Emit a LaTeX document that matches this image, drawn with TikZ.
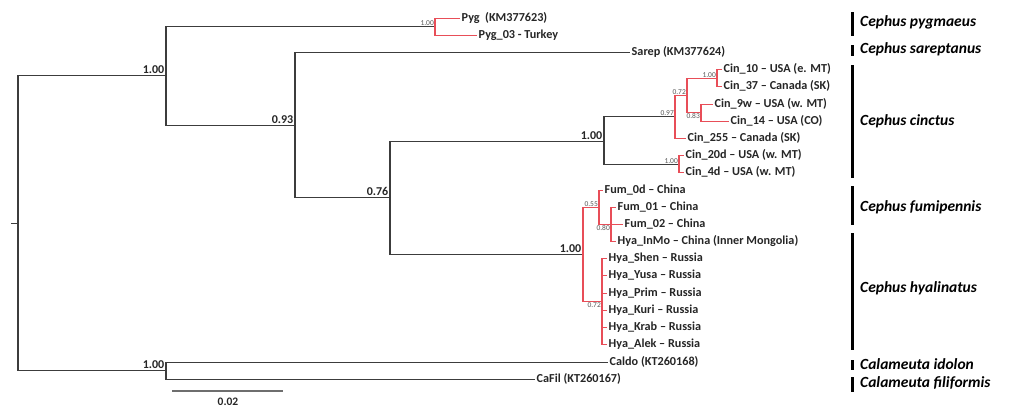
\documentclass[tikz,border=0pt]{standalone}
\usepackage{fontspec}
\setmainfont{Carlito}
\definecolor{brgray}{RGB}{60,60,60}
\definecolor{brred}{RGB}{232,78,88}
\definecolor{sbgray}{RGB}{110,110,110}
\begin{document}
\begin{tikzpicture}[x=1pt,y=-1pt,
  bk/.style={draw=brgray, line width=1.1pt},
  rd/.style={draw=brred, line width=1.2pt},
  leaf/.style={anchor=west, inner xsep=1.5pt, inner ysep=0pt, text height=8pt, text depth=2.5pt,
    font=\bfseries\fontsize{12.2}{12.5}\selectfont, text=black!85},
  bigsup/.style={font=\bfseries\fontsize{12}{12}\selectfont, inner sep=1.5pt, text=black!85},
  smsup/.style={font=\fontsize{7.5}{8}\selectfont, text=black!65, inner sep=1pt},
  spec/.style={anchor=west, inner sep=0pt, font=\bfseries\itshape\fontsize{15.5}{15.5}\selectfont},
  specbar/.style={draw=black, line width=3pt},
  scalebar/.style={draw=sbgray, line width=1.6pt}]
\fill[white] (0,0) rectangle (1009,407);
\useasboundingbox (0,0) rectangle (1009,407);

% internal nodes
\coordinate (stub) at (11,223.5);
\coordinate (r) at (18,223.5);
\coordinate (n1) at (166,75.5);
\coordinate (pygN) at (435,26.5);
\coordinate (n93) at (295,125.5);
\coordinate (n76) at (390,197.5);
\coordinate (cinN) at (604,141.5);
\coordinate (n97) at (675,116.5);
\coordinate (n72) at (687,95.5);
\coordinate (n100c) at (717,78.5);
\coordinate (n83) at (701,112.5);
\coordinate (n20) at (679,164.5);
\coordinate (fhN) at (583,254.5);
\coordinate (n55) at (599,207.5);
\coordinate (n80) at (611,224.5);
\coordinate (hyN) at (602,301.5);
\coordinate (calN) at (166,370.5);

% leaves
\node[leaf] (pyg) at (460,18.5) {Pyg\ \ (KM377623)};
\node[leaf] (pyg03) at (477,35.5) {Pyg\_03 - Turkey};
\node[leaf] (sarep) at (630,52.5) {Sarep (KM377624)};
\node[leaf] (c10) at (722,69.5) {Cin\_10 – USA (e. MT)};
\node[leaf] (c37) at (722,86.5) {Cin\_37 – Canada (SK)};
\node[leaf] (c9w) at (713,104.5) {Cin\_9w – USA (w. MT)};
\node[leaf] (c14) at (729,121.5) {Cin\_14 – USA (CO)};
\node[leaf] (c255) at (686,138.5) {Cin\_255 – Canada (SK)};
\node[leaf] (c20d) at (684,155.5) {Cin\_20d – USA (w. MT)};
\node[leaf] (c4d) at (684,172.5) {Cin\_4d – USA (w. MT)};
\node[leaf] (f0d) at (603,190.5) {Fum\_0d – China};
\node[leaf] (f01) at (616,207.5) {Fum\_01 – China};
\node[leaf] (f02) at (623,224.5) {Fum\_02 – China};
\node[leaf] (hinmo) at (616,241.5) {Hya\_InMo – China (Inner Mongolia)};
\node[leaf] (hshen) at (607,258.5) {Hya\_Shen – Russia};
\node[leaf] (hyusa) at (607,275.5) {Hya\_Yusa – Russia};
\node[leaf] (hprim) at (607,293.5) {Hya\_Prim – Russia};
\node[leaf] (hkuri) at (607,310.5) {Hya\_Kuri – Russia};
\node[leaf] (hkrab) at (607,327.5) {Hya\_Krab – Russia};
\node[leaf] (halek) at (607,344.5) {Hya\_Alek – Russia};
\node[leaf] (caldo) at (608,362.5) {Caldo (KT260168)};
\node[leaf] (cafil) at (535,379.5) {CaFil (KT260167)};

% connectors (black)
\draw[bk] (stub) -- (r);
\draw[bk] (r) |- (n1);
\draw[bk] (r) |- (calN);
\draw[bk] (n1) |- (pygN);
\draw[bk] (n1) |- (n93);
\draw[bk] (n93) |- (sarep.west);
\draw[bk] (n93) |- (n76);
\draw[bk] (n76) |- (cinN);
\draw[bk] (n76) |- (fhN);
\draw[bk] (cinN) |- (n97);
\draw[bk] (cinN) |- (n20);
\draw[bk] (calN) |- (caldo.west);
\draw[bk] (calN) |- (cafil.west);

% connectors (red)
\draw[rd] (pygN) |- (pyg.west);
\draw[rd] (pygN) |- (pyg03.west);
\draw[rd] (n97) |- (n72);
\draw[rd] (n97) |- (c255.west);
\draw[rd] (n72) |- (n100c);
\draw[rd] (n72) |- (n83);
\draw[rd] (n100c) |- (c10.west);
\draw[rd] (n100c) |- (c37.west);
\draw[rd] (n83) |- (c9w.west);
\draw[rd] (n83) |- (c14.west);
\draw[rd] (n20) |- (c20d.west);
\draw[rd] (n20) |- (c4d.west);
\draw[rd] (fhN) |- (n55);
\draw[rd] (fhN) |- (hyN);
\draw[rd] (n55) |- (f0d.west);
\draw[rd] (n55) |- (n80);
\draw[rd] (n80) |- (f01.west);
\draw[rd] (n80) |- (f02.west);
\draw[rd] (n80) |- (hinmo.west);
\foreach \h in {hshen,hyusa,hprim,hkuri,hkrab,halek}
  \draw[rd] (hyN) |- (\h.west);

% support values
\node[bigsup, anchor=south east] (s1) at (n1) {1.00};
\node[bigsup, anchor=south east] (s93) at (n93) {0.93};
\node[bigsup, anchor=south east] (s76) at (n76) {0.76};
\node[bigsup, anchor=south east] (scin) at (cinN) {1.00};
\node[bigsup, anchor=south east] (sfh) at (fhN) {1.00};
\node[bigsup, anchor=south east] (scal) at (calN) {1.00};
\node[smsup, anchor=south east] (spyg) at (pygN) {1.00};
\node[smsup, anchor=south east] (s97) at (n97) {0.97};
\node[smsup, anchor=south east] (s72) at (n72) {0.72};
\node[smsup, anchor=south east] (s100c) at (n100c) {1.00};
\node[smsup, anchor=north east] (s83) at (n83) {0.83};
\node[smsup, anchor=south east] (s20) at (n20) {1.00};
\node[smsup, anchor=south east] (s55) at (n55) {0.55};
\node[smsup, anchor=north east] (s80) at (n80) {0.80};
\node[smsup, anchor=north east] (shy) at (hyN) {0.72};

% scale bar
\coordinate (sb1) at (172,391);
\coordinate (sb2) at (283,391);
\draw[scalebar] (sb1) -- (sb2);
\node[bigsup, font=\bfseries\fontsize{11.5}{12}\selectfont] (sblab) at (228,402) {0.02};

% species bars and names
\draw[specbar] (852,12) -- (852,36);
\draw[specbar] (852,45) -- (852,56);
\draw[specbar] (852,65) -- (852,178);
\draw[specbar] (852,186) -- (852,225);
\draw[specbar] (852,233) -- (852,350);
\draw[specbar] (852,360) -- (852,370);
\draw[specbar] (852,377) -- (852,392);
\node[spec] (sp1) at (860,22) {Cephus pygmaeus};
\node[spec] (sp2) at (860,49) {Cephus sareptanus};
\node[spec] (sp3) at (860,121) {Cephus cinctus};
\node[spec] (sp4) at (860,207) {Cephus fumipennis};
\node[spec] (sp5) at (860,288) {Cephus hyalinatus};
\node[spec] (sp6) at (860,364) {Calameuta idolon};
\node[spec] (sp7) at (860,383) {Calameuta filiformis};
\end{tikzpicture}
\end{document}
